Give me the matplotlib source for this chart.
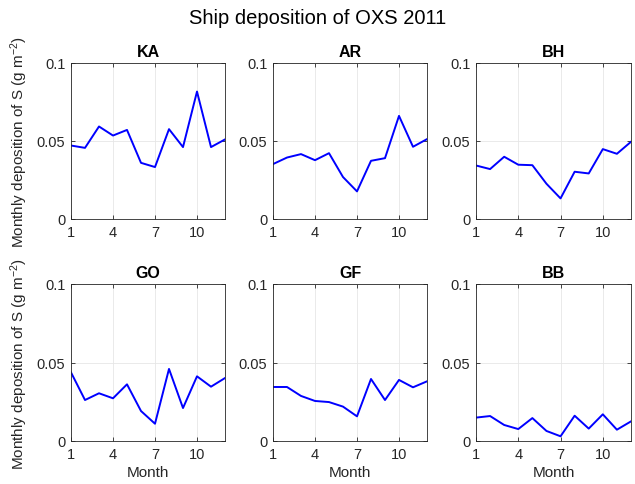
import matplotlib
matplotlib.use("Agg")
import matplotlib.pyplot as plt

plt.rcParams['font.family'] = ['Liberation Sans', 'DejaVu Sans']
plt.rcParams['mathtext.fontset'] = 'custom'
plt.rcParams['mathtext.rm'] = 'Liberation Sans'
plt.rcParams['mathtext.it'] = 'Liberation Sans:italic'
plt.rcParams['mathtext.bf'] = 'Liberation Sans:bold'

months = list(range(1, 13))
regions = ["KA", "AR", "BH", "GO", "GF", "BB"]

ka = [0.0471, 0.0456, 0.0593, 0.0535, 0.0571, 0.0360, 0.0333, 0.0576, 0.0461, 0.0817, 0.0461, 0.0510]
ar = [0.0352, 0.0394, 0.0416, 0.0377, 0.0422, 0.0269, 0.0177, 0.0373, 0.0390, 0.0661, 0.0463, 0.0512]
bh = [0.0343, 0.0320, 0.0399, 0.0348, 0.0345, 0.0226, 0.0132, 0.0303, 0.0292, 0.0448, 0.0418, 0.0495]
go = [0.0437, 0.0261, 0.0304, 0.0272, 0.0361, 0.0191, 0.0110, 0.0459, 0.0210, 0.0412, 0.0346, 0.0401]
gf = [0.0344, 0.0344, 0.0287, 0.0255, 0.0248, 0.0219, 0.0157, 0.0395, 0.0261, 0.0389, 0.0342, 0.0380]
bb = [0.0149, 0.0159, 0.0102, 0.0076, 0.0146, 0.0064, 0.0030, 0.0161, 0.0079, 0.0170, 0.0072, 0.0125]
series = [ka, ar, bh, go, gf, bb]

xticks = [1, 4, 7, 10]
yticks = [0, 0.05, 0.1]
yticklabels = ["0", "0.05", "0.1"]

W, H = 635, 485
fig = plt.figure(figsize=(W / 100, H / 100), dpi=100)

col_x = [71, 273, 476]
col_w = [154, 154, 155]
row_top = [64, 285]
row_h = [156, 157]

edge = (0.15, 0.15, 0.15)
for i, (name, vals) in enumerate(zip(regions, series)):
    r, c = divmod(i, 3)
    ax = fig.add_axes([col_x[c] / W, 1 - (row_top[r] + row_h[r]) / H,
                       col_w[c] / W, row_h[r] / H])
    ax.plot(months, vals, color=(0, 0, 1), lw=1.4)
    ax.set_xlim(1, 12)
    ax.set_ylim(0, 0.1)
    ax.set_xticks(xticks)
    ax.set_yticks(yticks)
    ax.set_yticklabels(yticklabels)
    ax.grid(True, color=(0.9, 0.9, 0.9), lw=0.6)
    ax.set_axisbelow(True)
    ax.tick_params(direction='in', length=3, width=0.6, colors=edge,
                   labelsize=10.5, top=True, right=True, pad=4,
                   labeltop=False, labelright=False)
    for s in ax.spines.values():
        s.set_color(edge)
        s.set_linewidth(0.6)
    ax.set_title(name, fontsize=11.5, fontweight='bold', pad=5)
    if c == 0:
        ax.set_ylabel("Monthly deposition of S (g m$^{-2}$)", fontsize=11,
                      color=edge, labelpad=5)
    if r == 1:
        ax.set_xlabel("Month", fontsize=11, color=edge, labelpad=3)

fig.suptitle("Ship deposition of OXS 2011", fontsize=14.5, y=1 - 18 / H, va='center')
fig.savefig("out.png", dpi=100)
